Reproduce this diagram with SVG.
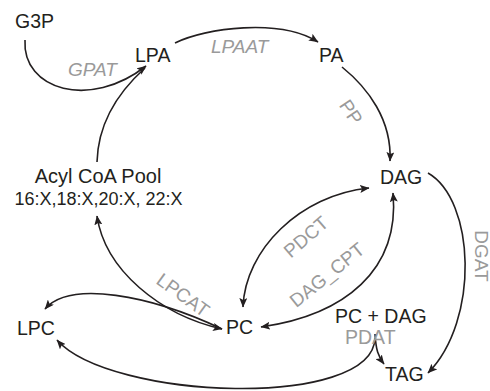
<svg xmlns="http://www.w3.org/2000/svg" width="490" height="391" viewBox="0 0 490 391">
<defs>
<marker id="ah" markerUnits="userSpaceOnUse" markerWidth="10" markerHeight="8" refX="9" refY="4" orient="auto-start-reverse">
<path d="M0,0 L9.5,4 L0,8 L2,4 z" fill="#231f20"/>
</marker>
<style>
.n{font-family:"Liberation Sans",Arial,sans-serif;font-size:19.5px;fill:#231f20}
.e{font-family:"Liberation Sans",Arial,sans-serif;font-size:19px;fill:#9a9a9a}
.i{font-style:italic}
.c{fill:none;stroke:#231f20;stroke-width:1.6}
</style>
</defs>
<rect width="490" height="391" fill="#fff"/>
<g id="connectors">
<path class="c" d="M25,40 C22,90 90,110 146,66" marker-end="url(#ah)"/>
<path class="c" d="M97,162 C98,125 115,95 145,68"/>
<path class="c" d="M175,43 C205,28 280,18 318,42" marker-end="url(#ah)"/>
<path class="c" d="M342,67 C368,88 392,120 390,161" marker-end="url(#ah)"/>
<path class="c" d="M428,173 C475,200 480,320 428,373" marker-end="url(#ah)"/>
<path class="c" d="M243,307 C245,250 300,195 369,188" marker-start="url(#ah)" marker-end="url(#ah)"/>
<path class="c" d="M261,327 C345,315 400,270 393,193" marker-start="url(#ah)" marker-end="url(#ah)"/>
<path class="c" d="M222,329 C160,315 105,270 97,216" marker-start="url(#ah)" marker-end="url(#ah)"/>
<path class="c" d="M222,329 C150,295 70,280 45,309" marker-end="url(#ah)"/>
<path class="c" d="M375,334 C376,350 378,356 384,364" marker-end="url(#ah)"/>
<path class="c" d="M375,338 C373,410 110,400 57,340" marker-end="url(#ah)"/>
</g>
<g id="G3P"><text class="n" x="15" y="28">G3P</text></g>
<g id="LPA"><text class="n" x="135" y="62">LPA</text></g>
<g id="PA"><text class="n" x="319" y="62">PA</text></g>
<g id="DAG"><text class="n" x="380" y="184">DAG</text></g>
<g id="AcylCoAPool"><text class="n" x="98" y="183" text-anchor="middle" style="font-size:20px">Acyl CoA Pool</text><text class="n" x="98.5" y="205" text-anchor="middle" style="font-size:18px">16:X,18:X,20:X, 22:X</text></g>
<g id="LPC"><text class="n" x="17" y="335">LPC</text></g>
<g id="PC"><text class="n" x="226" y="334">PC</text></g>
<g id="PCDAG"><text class="n" x="335" y="323">PC + DAG</text></g>
<g id="TAG"><text class="n" x="385" y="381">TAG</text></g>
<g id="labels">
<text class="e i" x="68" y="76">GPAT</text>
<text class="e i" x="211" y="53">LPAAT</text>
<text class="e" x="0" y="6.5" text-anchor="middle" transform="translate(351,112) rotate(56)">PP</text>
<text class="e" x="0" y="6.5" text-anchor="middle" transform="translate(481,256) rotate(90)">DGAT</text>
<text class="e" x="0" y="6.5" text-anchor="middle" transform="translate(306,237) rotate(-41)">PDCT</text>
<text class="e" x="0" y="6.5" text-anchor="middle" transform="translate(327,275) rotate(-39)">DAG_CPT</text>
<text class="e" x="0" y="6.5" text-anchor="middle" transform="translate(183,295) rotate(36)">LPCAT</text>
<text class="e" x="345" y="344" style="font-size:19.5px">PDAT</text>
</g>
</svg>
